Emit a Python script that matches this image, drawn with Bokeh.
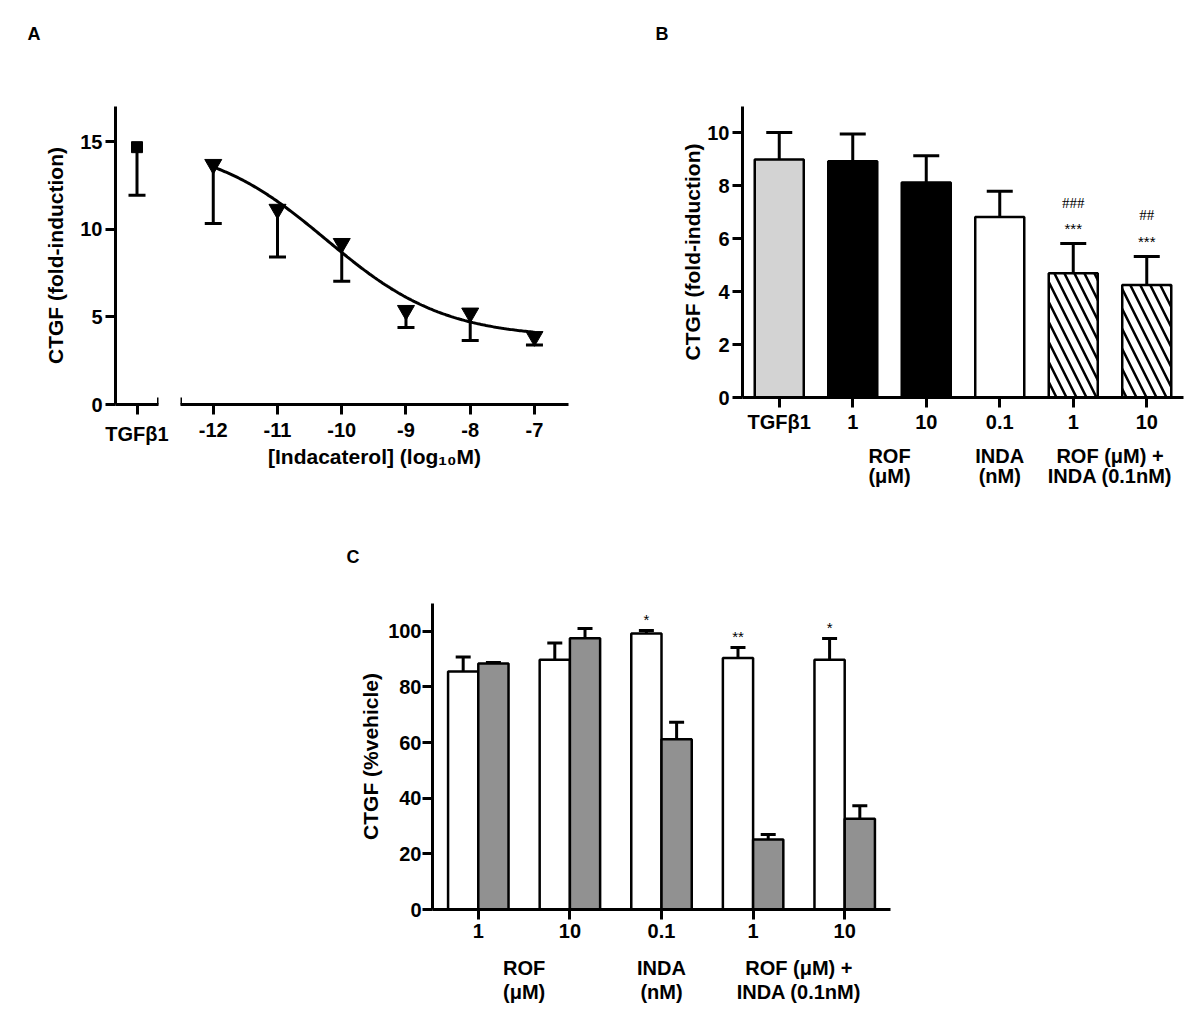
from bokeh.plotting import figure
from bokeh.models import (ColumnDataSource, FixedTicker, Whisker, TeeHead, LinearAxis,
                          Arrow, Range1d, Spacer, CanvasTexture)
from bokeh.layouts import row, column
from bokeh.core.properties import value
from bokeh.embed import file_html
from bokeh.resources import INLINE
import numpy as np

FONT = "Liberation Sans"

# ---------------- Panel A data ----------------
a_tgf_label = "TGFβ1"
a_tgf_mean = 14.68
a_tgf_low = 11.94
a_log_conc = [-12, -11, -10, -9, -8, -7]
a_means = [13.70, 11.14, 9.19, 5.37, 5.22, 3.88]
a_lows = [10.32, 8.41, 7.03, 4.39, 3.65, 3.40]
# sigmoidal dose-response fit shown in the original (parameters)
a_fit_bottom = 3.8
a_fit_top = 15.0
a_fit_logec50 = -10.24
a_fit_hill = 0.47
a_yticks = [0, 5, 10, 15]

# ---------------- Panel B data ----------------
b_labels = ["TGFβ1", "1", "10", "0.1", "1", "10"]
b_means = [9.00, 8.93, 8.13, 6.82, 4.70, 4.25]
b_sems = [1.02, 1.03, 1.01, 0.98, 1.12, 1.08]
b_stars = ["", "", "", "", "***", "***"]
b_hashes = ["", "", "", "", "###", "##"]
b_groups = ["ROF\n(μM)", "INDA\n(nM)", "ROF (μM) +\nINDA (0.1nM)"]
b_group_members = [[1, 2], [3], [4, 5]]
b_yticks = [0, 2, 4, 6, 8, 10]

# ---------------- Panel C data ----------------
c_labels = ["1", "10", "0.1", "1", "10"]
c_open_means = [85.6, 89.8, 99.2, 90.4, 89.8]
c_open_sems = [5.2, 6.0, 1.1, 3.8, 7.6]
c_check_means = [88.4, 97.5, 61.2, 25.2, 32.6]
c_check_sems = [0.4, 3.5, 6.1, 1.8, 4.7]
c_stars = ["", "", "*", "**", "*"]
c_groups = ["ROF\n(μM)", "INDA\n(nM)", "ROF (μM) +\nINDA (0.1nM)"]
c_group_members = [[0, 1], [2], [3, 4]]
c_yticks = [0, 20, 40, 60, 80, 100]

TICK_FS = "20px"
LABEL_FS = "21px"


def base_style(p):
    p.outline_line_color = None
    p.xgrid.visible = False
    p.ygrid.visible = False
    p.background_fill_color = "white"
    p.border_fill_color = "white"
    for ax in p.axis:
        ax.axis_line_width = 3
        ax.axis_line_color = "black"
        ax.major_tick_line_width = 3
        ax.major_tick_line_color = "black"
        ax.major_tick_out = 10
        ax.major_tick_in = 0
        ax.minor_tick_line_color = None
        ax.major_label_text_font = FONT
        ax.major_label_text_font_style = "bold"
        ax.major_label_text_font_size = TICK_FS
        ax.major_label_text_color = "black"
        ax.axis_label_text_font = FONT
        ax.axis_label_text_font_style = "bold"
        ax.axis_label_text_font_size = LABEL_FS
        ax.axis_label_text_color = "black"


def panel_letter(p, letter, dx, gap):
    # invisible spacer panel between the frame and the title, so the letter sits higher
    mid = 0.5 * (p.x_range.start + p.x_range.end)
    sp = LinearAxis(ticker=FixedTicker(ticks=[mid], minor_ticks=[]))
    sp.axis_line_color = None
    sp.major_tick_line_color = None
    sp.minor_tick_line_color = None
    sp.major_label_text_color = None
    sp.major_label_text_alpha = 0
    sp.major_tick_out = gap
    sp.major_tick_in = 0
    sp.major_label_standoff = 0
    p.add_layout(sp, "above")
    p.title.text = letter
    p.title.align = "left"
    p.title.offset = dx
    p.title.standoff = 10
    p.title.text_font = FONT
    p.title.text_font_style = "bold"
    p.title.text_font_size = "18px"
    p.title.text_color = "black"


def group_axis(p, positions, texts, standoff, line_height):
    ax = LinearAxis(ticker=FixedTicker(ticks=positions, minor_ticks=[]),
                    major_label_overrides={x: t for x, t in zip(positions, texts)})
    ax.axis_line_color = None
    ax.major_tick_line_color = None
    ax.minor_tick_line_color = None
    ax.major_tick_out = 0
    ax.major_tick_in = 0
    ax.major_label_standoff = standoff
    ax.major_label_text_font = FONT
    ax.major_label_text_font_style = "bold"
    ax.major_label_text_font_size = TICK_FS
    ax.major_label_text_color = "black"
    ax.major_label_text_line_height = line_height
    p.add_layout(ax, "below")


# ================= Panel A (two segments of a broken x axis) =================
A_YMAX = 17
A1_X = (0, 1)
A2_X = (-12.51, -6.47)

pa1 = figure(frame_width=43, frame_height=298, min_border_left=115, min_border_right=14,
             min_border_top=106, min_border_bottom=104, title="A",
             x_range=Range1d(*A1_X), y_range=Range1d(0, A_YMAX),
             output_backend="svg", toolbar_location=None)
base_style(pa1)
pa1.xaxis.ticker = FixedTicker(ticks=[0.5])
pa1.xaxis.major_label_overrides = {0.5: a_tgf_label}
pa1.xaxis.major_label_standoff = 8
pa1.yaxis.ticker = FixedTicker(ticks=a_yticks)
pa1.yaxis.major_label_standoff = 3
pa1.yaxis.axis_label = "CTGF (fold-induction)"
pa1.yaxis.axis_label_standoff = 10
panel_letter(pa1, "A", -88, 58)

src_tgf = ColumnDataSource(dict(x=[0.5], mean=[a_tgf_mean], low=[a_tgf_low]))
pa1.add_layout(Whisker(base="x", lower="low", upper="mean", source=src_tgf, dimension="height",
                       line_width=3, line_color="black",
                       lower_head=TeeHead(size=17, line_width=3, line_color="black"),
                       upper_head=None))
pa1.scatter("x", "mean", source=src_tgf, marker="square", size=11, color="black")
pa1.add_layout(Arrow(end=None, x_start=A1_X[1], x_end=A1_X[1], y_start=-0.4, y_end=0.4,
                     line_width=3, line_color="black", level="overlay"))

pa2 = figure(frame_width=388, frame_height=298, min_border_left=8, min_border_right=74,
             min_border_top=106, min_border_bottom=104,
             x_range=Range1d(*A2_X), y_range=Range1d(0, A_YMAX), y_axis_location=None,
             output_backend="svg", toolbar_location=None)
base_style(pa2)
pa2.xaxis.ticker = FixedTicker(ticks=a_log_conc)
pa2.xaxis.major_label_overrides = {v: str(v) for v in a_log_conc}
pa2.xaxis.major_label_standoff = 8
pa2.xaxis.axis_label = "[Indacaterol] (log₁₀M)"
pa2.xaxis.axis_label_standoff = 5

fit_x = np.linspace(min(a_log_conc), max(a_log_conc), 200)
fit_y = a_fit_bottom + (a_fit_top - a_fit_bottom) / (1 + 10 ** ((fit_x - a_fit_logec50) * a_fit_hill))
pa2.line(fit_x, fit_y, line_width=3, line_color="black")

src_a = ColumnDataSource(dict(x=a_log_conc, mean=a_means, low=a_lows))
pa2.add_layout(Whisker(base="x", lower="low", upper="mean", source=src_a, dimension="height",
                       line_width=3, line_color="black",
                       lower_head=TeeHead(size=17, line_width=3, line_color="black"),
                       upper_head=None))
pa2.scatter("x", "mean", source=src_a, marker="inverted_triangle", size=17, color="black")
pa2.add_layout(Arrow(end=None, x_start=A2_X[0], x_end=A2_X[0], y_start=-0.4, y_end=0.4,
                     line_width=3, line_color="black", level="overlay"))

# ================= Panel B =================
B_YMAX = 11
nb = len(b_labels)
pb = figure(frame_width=441, frame_height=291, min_border_left=100, min_border_right=8,
            min_border_top=106, min_border_bottom=111, title="B",
            x_range=Range1d(-0.5, nb - 0.5), y_range=Range1d(0, B_YMAX),
            output_backend="svg", toolbar_location=None)
base_style(pb)
bx = list(range(nb))
b_fill = ["#d3d3d3", "black", "black", "white", "white", "white"]
b_hatch = [" ", " ", " ", " ", "\\", "\\"]
src_b = ColumnDataSource(dict(x=bx, top=b_means, up=[m + s for m, s in zip(b_means, b_sems)],
                              fill=b_fill, hatch=b_hatch, stars=b_stars, hashes=b_hashes))
pb.vbar(x="x", top="top", width=0.667, source=src_b, fill_color="fill", line_color="black",
        line_width=2.5, hatch_pattern="hatch", hatch_color="black", hatch_scale=20, hatch_weight=2.5)
pb.add_layout(Whisker(base="x", lower="top", upper="up", source=src_b, dimension="height",
                      line_width=3, line_color="black",
                      upper_head=TeeHead(size=26, line_width=3, line_color="black"),
                      lower_head=None))
pb.text(x="x", y="up", text="stars", source=src_b, y_offset=-15, text_align="center",
        text_baseline="middle", text_font=value(FONT), text_font_size="15px", text_color="black")
pb.text(x="x", y="up", text="hashes", source=src_b, y_offset=-41, text_align="center",
        text_baseline="middle", text_font=value("Liberation Serif"), text_font_size="15px",
        text_color="black")
pb.xaxis.ticker = FixedTicker(ticks=bx)
pb.xaxis.major_label_overrides = {i: t for i, t in enumerate(b_labels)}
pb.xaxis.major_label_standoff = 3
pb.yaxis.ticker = FixedTicker(ticks=b_yticks)
pb.yaxis.major_label_standoff = 3
pb.yaxis.axis_label = "CTGF (fold-induction)"
pb.yaxis.axis_label_standoff = 0
group_axis(pb, [float(np.mean(m)) for m in b_group_members], b_groups, 9, 0.95)
panel_letter(pb, "B", -87, 58)

# ================= Panel C =================
C_YMAX = 110
nc = len(c_labels)
pc = figure(frame_width=458, frame_height=306, min_border_left=100, min_border_right=10,
            min_border_top=95, min_border_bottom=100, title="C",
            x_range=Range1d(-0.5, nc - 0.5), y_range=Range1d(0, C_YMAX),
            output_backend="svg", toolbar_location=None)
base_style(pc)
cx = list(range(nc))
BW = 0.33
src_co = ColumnDataSource(dict(x=[i - BW / 2 for i in cx], top=c_open_means,
                               up=[m + s for m, s in zip(c_open_means, c_open_sems)], stars=c_stars))
src_cc = ColumnDataSource(dict(x=[i + BW / 2 for i in cx], top=c_check_means,
                               up=[m + s for m, s in zip(c_check_means, c_check_sems)]))
checker = CanvasTexture(code="""
const h = scale / 2;
ctx.fillStyle = "black";
ctx.fillRect(0, 0, h, h);
ctx.fillRect(h, h, h, h);
""")
pc.vbar(x="x", top="top", width=BW, source=src_co, fill_color="white", line_color="black",
        line_width=2.5)
pc.vbar(x="x", top="top", width=BW, source=src_cc, fill_color="white", line_color="black",
        line_width=2.5, hatch_pattern=value("checker"), hatch_extra={"checker": checker},
        hatch_scale=4, hatch_color="black")
for s in (src_co, src_cc):
    pc.add_layout(Whisker(base="x", lower="top", upper="up", source=s, dimension="height",
                          line_width=3, line_color="black",
                          upper_head=TeeHead(size=15, line_width=3, line_color="black"),
                          lower_head=None))
pc.text(x="x", y="up", text="stars", source=src_co, y_offset=-11, text_align="center",
        text_baseline="middle", text_font=value(FONT), text_font_size="15px", text_color="black")
pc.xaxis.ticker = FixedTicker(ticks=cx)
pc.xaxis.major_label_overrides = {i: t for i, t in enumerate(c_labels)}
pc.xaxis.major_label_standoff = 4
pc.yaxis.ticker = FixedTicker(ticks=c_yticks)
pc.yaxis.major_label_standoff = 1
pc.yaxis.axis_label = "CTGF (%vehicle)"
pc.yaxis.axis_label_standoff = 3
group_axis(pc, [float(np.mean(m)) for m in c_group_members], c_groups, 16, 1.1)
panel_letter(pc, "C", -86, 32)

layout = column(row(pa1, pa2, pb), row(Spacer(width=332, height=10), pc))
open("out.html", "w").write(file_html(layout, INLINE))
